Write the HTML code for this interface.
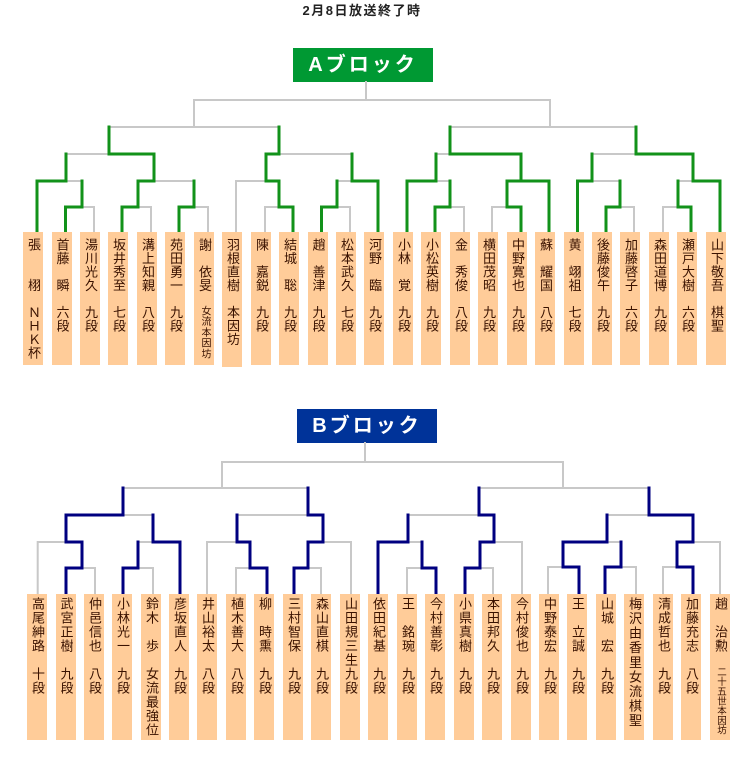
<!DOCTYPE html>
<html><head><meta charset="utf-8"><style>
html,body{margin:0;padding:0;background:#fff;}
#w{position:relative;width:750px;height:779px;overflow:hidden;font-family:"Liberation Sans","Noto Sans CJK JP",sans-serif;}
.t{position:absolute;left:262px;top:3px;width:200px;text-align:center;font-size:13px;font-weight:bold;color:#222;letter-spacing:1.5px;line-height:16px;}
.h{position:absolute;width:140px;height:34px;color:#fff;font-weight:bold;font-size:20px;line-height:34px;text-align:center;letter-spacing:3px;}
.b{position:absolute;width:20px;background:#ffcc99;color:#3a1200;writing-mode:vertical-rl;text-orientation:upright;font-size:13px;line-height:20px;box-sizing:border-box;white-space:nowrap;}
.a{top:232px;height:133px;padding-top:6px;letter-spacing:0.5px;}
.c{top:594px;height:146px;padding-top:3px;letter-spacing:1px;}
.s{font-size:10px;letter-spacing:0.75px;}
.s2{font-size:9.5px;letter-spacing:0.2px;}
svg{position:absolute;left:0;top:0;}
</style></head><body><div id="w">
<div class="t">2月8日放送終了時</div>
<div class="h" style="left:293px;top:48px;background:#009933;">Aブロック</div>
<div class="h" style="left:297px;top:409px;background:#003399;">Bブロック</div>
<svg width="750" height="779" fill="none" stroke-linecap="square">
<path stroke="#c8c8c8" stroke-width="2" d="M366 82V100 M194 100H550 M194 100V127 M550 100V127
M109 127H279 M66 154H109 M66 181H82 M82 207H94 M94 207V232 M154 181H194 M138 207H151 M151 207V232
M194 207H208 M208 207V232 M279 154H352 M236 181H266 M236 181V232 M265 207H279 M265 207V232
M337 181H352 M337 207H350 M350 207V232 M450 127H636 M436 154H450 M436 181H450 M450 207H464 M464 207V232
M492 207H507 M492 207V232 M592 154H636 M592 181H620 M620 207H634 M634 207V232 M678 181H693 M663 207H678 M663 207V232
M365 443V462 M222 462H563 M222 462V488 M563 462V488 M123 488H308 M123 515H153 M37.7 542H66 M37.7 542V594
M82 568H95 M95 568V594 M138 542H153 M138 568H153 M153 568V594 M237 515H308 M207 542H237 M207 542V594
M323 542H351 M351 542V594 M236 568H250 M236 568V594 M308 568H321 M321 568V594 M479 488H649 M408 515H479
M408 542H422 M407 568H422 M407 568V594 M494 542H522 M522 542V594 M480 568H493 M493 568V594 M607 515H649
M607 542H621 M548 567H563 M548 567V594 M621 567H636 M636 567V594 M693 542H720 M720 542V594 M663 567H677 M663 567V594"/>
<path stroke="#12921a" stroke-width="3" d="M109 127V154 M279 127V154 M109 154H154 M154 154V181 M66 154V181
M37 181H66 M37 181V232 M82 181V207 M65.5 207H82 M65.5 207V232 M138 181H154 M138 181V207 M194 181V207
M122 207H138 M122 207V232 M179 207H194 M179 207V232 M266 154H279 M266 154V181 M352 154V181
M266 181H279 M279 181V207 M279 207H293 M293 207V232 M352 181H378 M337 181V207 M378 181V232
M321.5 207H337 M321.5 207V232 M450 127V154 M636 127V154 M450 154H521 M521 154V181 M436 154V181
M407 181H436 M407 181V232 M450 181V207 M435 207H450 M435 207V232 M507 181H549 M507 181V207 M549 181V232
M507 207H521 M521 207V232 M636 154H693 M592 154V181 M693 154V181 M577.5 181H592 M577.5 181V232 M620 181V207
M606 207H620 M606 207V232 M693 181H720 M678 181V207 M720 181V232 M678 207H691 M691 207V232"/>
<path stroke="#000080" stroke-width="3" d="M123 488V515 M308 488V515 M66 515H123 M66 515V542 M153 515V542
M66 542H82 M82 542V568 M66 568H82 M66 568V594 M153 542H180 M180 542V594 M138 542V568 M123 568H138 M123 568V594
M237 515V542 M323 515V542 M308 515H323 M237 542H250 M250 542V568 M250 568H267 M267 568V594
M308 542H323 M308 542V568 M294 568H308 M294 568V594 M479 488V515 M649 488V515
M479 515H494 M408 515V542 M494 515V542 M378 542H408 M378 542V594 M422 542V568 M422 568H436 M436 568V594
M480 542H494 M480 542V568 M465 568H480 M465 568V594 M649 515H693 M607 515V542 M693 515V542
M563 542H607 M563 542V567 M621 542V567 M563 567H579 M579 567V594 M605 567H621 M605 567V594
M677 542H693 M677 542V567 M677 567H693 M693 567V594"/>
</svg>
<div class="b a" style="left:23px">張　　栩　ＮＨＫ杯</div>
<div class="b a" style="left:51.5px">首藤　瞬　六段</div>
<div class="b a" style="left:80px">湯川光久　九段</div>
<div class="b a" style="left:108px">坂井秀至　七段</div>
<div class="b a" style="left:137px">溝上知親　八段</div>
<div class="b a" style="left:165px">苑田勇一　九段</div>
<div class="b a" style="left:194px">謝　依旻　<span class="s">女流本因坊</span></div>
<div class="b a" style="left:222px;height:135px">羽根直樹　本因坊</div>
<div class="b a" style="left:251px">陳　嘉鋭　九段</div>
<div class="b a" style="left:279px">結城　聡　九段</div>
<div class="b a" style="left:307.5px">趙　善津　九段</div>
<div class="b a" style="left:336px">松本武久　七段</div>
<div class="b a" style="left:364px">河野　臨　九段</div>
<div class="b a" style="left:393px">小林　覚　九段</div>
<div class="b a" style="left:421px">小松英樹　九段</div>
<div class="b a" style="left:450px">金　秀俊　八段</div>
<div class="b a" style="left:478px">横田茂昭　九段</div>
<div class="b a" style="left:507px">中野寛也　九段</div>
<div class="b a" style="left:535px">蘇　耀国　八段</div>
<div class="b a" style="left:563.5px">黄　翊祖　七段</div>
<div class="b a" style="left:592px">後藤俊午　九段</div>
<div class="b a" style="left:620px">加藤啓子　六段</div>
<div class="b a" style="left:649px">森田道博　九段</div>
<div class="b a" style="left:677px">瀬戸大樹　六段</div>
<div class="b a" style="left:706px">山下敬吾　棋聖</div>

<div class="b c" style="left:27px">高尾紳路　十段</div>
<div class="b c" style="left:55.5px">武宮正樹　九段</div>
<div class="b c" style="left:84px">仲邑信也　八段</div>
<div class="b c" style="left:112px">小林光一　九段</div>
<div class="b c" style="left:141px">鈴木　歩　女流最強位</div>
<div class="b c" style="left:169px">彦坂直人　九段</div>
<div class="b c" style="left:197px">井山裕太　八段</div>
<div class="b c" style="left:226px">植木善大　八段</div>
<div class="b c" style="left:254px">柳　時熏　九段</div>
<div class="b c" style="left:283px">三村智保　九段</div>
<div class="b c" style="left:311px">森山直棋　九段</div>
<div class="b c" style="left:340px">山田規三生九段</div>
<div class="b c" style="left:368px">依田紀基　九段</div>
<div class="b c" style="left:397px">王　銘琬　九段</div>
<div class="b c" style="left:425px">今村善彰　九段</div>
<div class="b c" style="left:454px">小県真樹　九段</div>
<div class="b c" style="left:482px">本田邦久　九段</div>
<div class="b c" style="left:511px">今村俊也　九段</div>
<div class="b c" style="left:539px">中野泰宏　九段</div>
<div class="b c" style="left:567px">王　立誠　九段</div>
<div class="b c" style="left:596px">山城　宏　九段</div>
<div class="b c" style="left:624px;letter-spacing:1.6px">梅沢由香里女流棋聖</div>
<div class="b c" style="left:653px">清成哲也　九段</div>
<div class="b c" style="left:681px">加藤充志　八段</div>
<div class="b c" style="left:710px">趙　治勲　<span class="s2">二十五世本因坊</span></div>
</div></body></html>
